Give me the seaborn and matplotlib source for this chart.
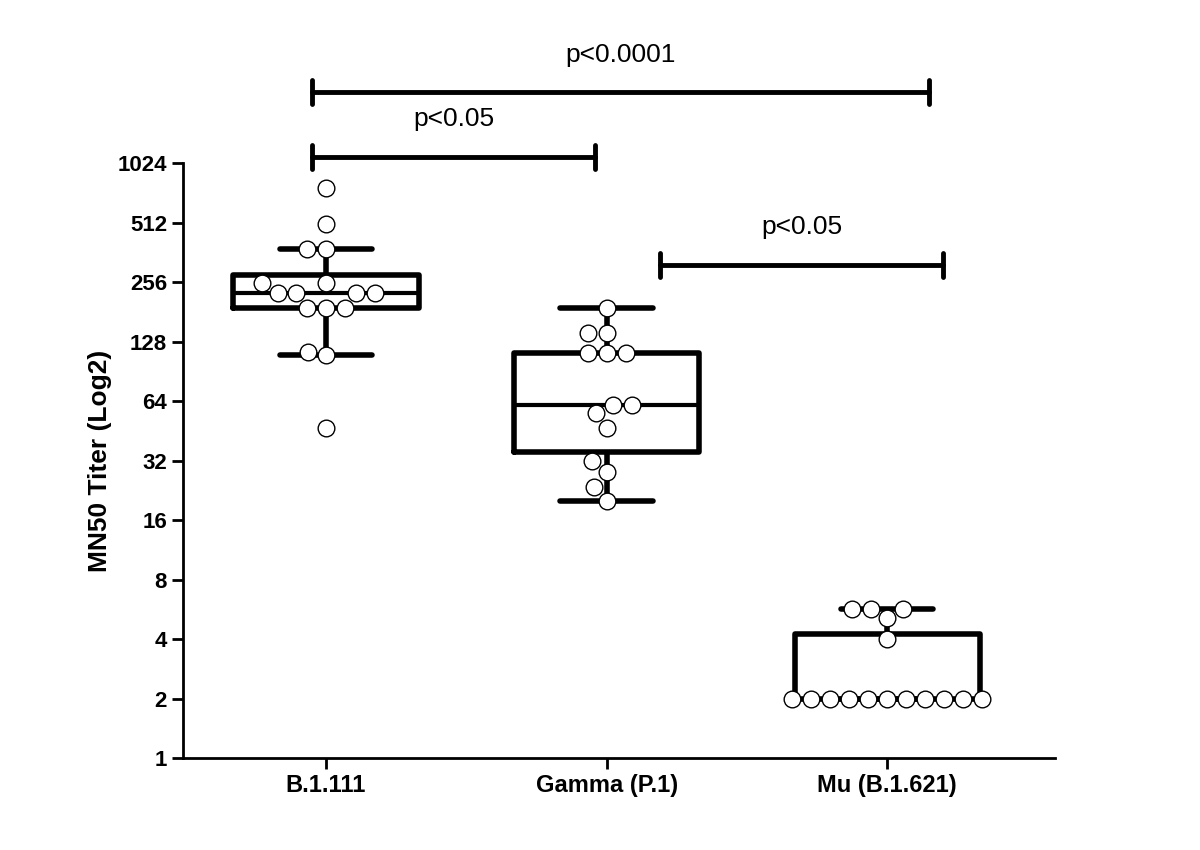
import numpy as np
import pandas as pd
import matplotlib.pyplot as plt
import seaborn as sns

categories = ["B.1.111", "Gamma (P.1)", "Mu (B.1.621)"]
b1111 = [765, 503, 376, 376, 253, 253, 225, 225, 225, 225, 189, 189, 189, 114, 109, 47]
gamma = [189, 141, 141, 112, 112, 112, 61, 61, 56, 47, 32, 28, 23.5, 20]
mu = [5.7, 5.7, 5.7, 5.1, 4, 2, 2, 2, 2, 2, 2, 2, 2, 2, 2, 2]
yticks = [1, 2, 4, 8, 16, 32, 64, 128, 256, 512, 1024]
brackets = [(-0.05, 2.15, 2 ** 11.19, "p<0.0001"),
            (-0.05, 0.96, 2 ** 10.1, "p<0.05"),
            (1.19, 2.2, 2 ** 8.29, "p<0.05")]

rows = []
for cat, vals in zip(categories, [b1111, gamma, mu]):
    for v in vals:
        rows.append({"group": cat, "titer": v})
df = pd.DataFrame(rows)

sns.set_style("ticks")
plt.rcParams['font.family'] = ['Liberation Sans', 'DejaVu Sans']
plt.rcParams['text.color'] = 'black'

fig = plt.figure(figsize=(12, 8.5), dpi=100)
ax = fig.add_axes([0.1525, 0.108, 0.727, 0.70])

lw = 4
sns.boxplot(data=df, x="group", y="titer", order=categories, whis=1.5,
            showfliers=False, width=0.66, fill=False, color="black",
            linewidth=lw, log_scale=2, ax=ax,
            capprops=dict(linewidth=lw), whiskerprops=dict(linewidth=lw),
            medianprops=dict(linewidth=3))
sns.swarmplot(data=df, x="group", y="titer", order=categories, ax=ax,
              size=12, marker="o", facecolor="white", edgecolor="black",
              linewidth=1, zorder=5)

ax.set_yscale("log", base=2)
ax.set_ylim(1, 1024)
ax.set_xlim(-0.51, 2.6)
ax.set_yticks(yticks)
ax.set_yticklabels([str(t) for t in yticks], fontsize=16, fontweight="bold", color="black")
ax.set_xticks(range(3))
ax.set_xticklabels(categories, fontsize=17, fontweight="bold", color="black")
ax.minorticks_off()
ax.set_xlabel("")
ax.set_ylabel("MN50 Titer (Log2)", fontsize=19, fontweight="bold", color="black")
for s in ["left", "bottom"]:
    ax.spines[s].set_linewidth(2)
    ax.spines[s].set_color("black")
sns.despine(ax=ax)
ax.tick_params(axis="both", width=2, length=8, color="black")

for x0, x1, y, txt in brackets:
    ax.plot([x0, x1], [y, y], color="black", lw=3.5, clip_on=False)
    for xx in (x0, x1):
        ax.plot([xx, xx], [y / 1.15, y * 1.15], color="black", lw=3.5, clip_on=False)
    ax.text((x0 + x1) / 2, y * 1.35, txt, ha="center", va="bottom", fontsize=19, color="black")

fig.savefig("out.png", dpi=100)
